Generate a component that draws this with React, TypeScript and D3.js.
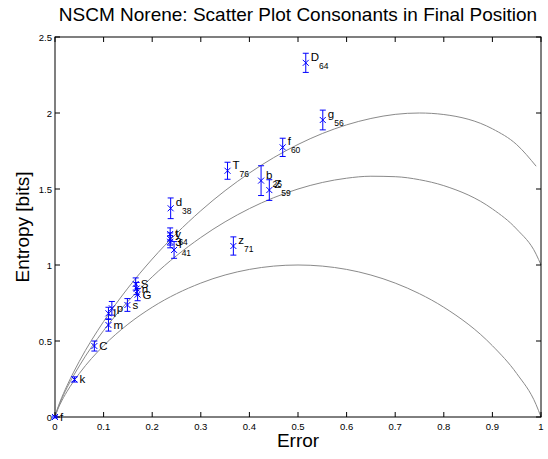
import * as d3 from "d3";
import { useEffect, useRef } from "react";

// consonants: label, subscript, error rate, entropy, error bar half-length
const labels = ["f", "k", "C", "m", "l", "p", "s", "S", "n", "G", "y", "t", "3", "l", "d", "T", "b", "Z", "z", "f", "g", "D"];
const subs = ["", "", "", "", "", "", "", "", "", "", "", "64", "", "41", "38", "76", "25", "59", "71", "60", "56", "64"];
const errorRate = [0, 0.04, 0.081, 0.11, 0.11, 0.117, 0.149, 0.166, 0.168, 0.17, 0.237, 0.237, 0.237, 0.245, 0.238, 0.355, 0.424, 0.441, 0.367, 0.4685, 0.551, 0.516];
const entropy = [0, 0.247, 0.467, 0.605, 0.682, 0.715, 0.737, 0.875, 0.845, 0.805, 1.204, 1.171, 1.153, 1.099, 1.373, 1.62, 1.555, 1.493, 1.125, 1.774, 1.954, 2.33];
const spread = [0.006, 0.017, 0.033, 0.04, 0.04, 0.045, 0.042, 0.04, 0.04, 0.04, 0.04, 0.04, 0.04, 0.055, 0.068, 0.056, 0.098, 0.068, 0.06, 0.06, 0.065, 0.063];

// bound curves
const curveX = [0, 0.005, 0.01, 0.025, 0.05, 0.1, 0.15, 0.2, 0.3, 0.4, 0.5, 0.6, 0.65, 0.7, 0.75, 0.8, 0.9, 0.95, 0.99, 1];
const bound2 = [0, 0.045, 0.081, 0.169, 0.286, 0.469, 0.61, 0.722, 0.881, 0.971, 1, 0.971, 0.934, 0.881, 0.811, 0.722, 0.469, 0.286, 0.081, 0];
const bound3 = [0, 0.05, 0.091, 0.194, 0.336, 0.569, 0.76, 0.922, 1.181, 1.371, 1.5, 1.571, 1.584, 1.581, 1.561, 1.522, 1.369, 1.236, 1.071, 1];
const bound4 = [0, 0.053, 0.097, 0.208, 0.366, 0.628, 0.848, 1.039, 1.357, 1.605, 1.793, 1.922, 1.964, 1.991, 2, 1.99, 1.896, 1.792, 1.65, NaN];

const xTicks = [0, 0.1, 0.2, 0.3, 0.4, 0.5, 0.6, 0.7, 0.8, 0.9, 1];
const yTicks = [0, 0.5, 1, 1.5, 2, 2.5];

export default function App() {
  const ref = useRef<SVGSVGElement | null>(null);

  useEffect(() => {
    if (!ref.current) return;
    const width = 548;
    const height = 459;
    const m = { top: 37, right: 7, bottom: 42, left: 55 };
    const font = "Liberation Sans, Arial, sans-serif";

    const svg = d3.select(ref.current);
    svg.selectAll("*").remove();

    const x = d3.scaleLinear().domain([0, 1]).range([m.left, width - m.right]);
    const y = d3.scaleLinear().domain([0, 2.5]).range([height - m.bottom, m.top]);

    svg.append("rect").attr("width", width).attr("height", height).attr("fill", "#fff");

    // curves
    const line = d3.line<number>()
      .defined((d) => !isNaN(d))
      .x((_, i) => x(curveX[i]))
      .y((d) => y(d))
      .curve(d3.curveMonotoneX);
    [bound2, bound3, bound4].forEach((b) => {
      svg.append("path").attr("d", line(b)).attr("fill", "none")
        .attr("stroke", "#8a8a8a").attr("stroke-width", 1);
    });

    // axes (box with inward ticks)
    const tl = 5;
    const ax = svg.append("g");
    ax.append("rect").attr("x", x(0)).attr("y", y(2.5))
      .attr("width", x(1) - x(0)).attr("height", y(0) - y(2.5))
      .attr("fill", "none").attr("stroke", "#000").attr("stroke-width", 1);
    xTicks.forEach((t) => {
      ax.append("line").attr("x1", x(t)).attr("x2", x(t)).attr("y1", y(0)).attr("y2", y(0) - tl).attr("stroke", "#000");
      ax.append("line").attr("x1", x(t)).attr("x2", x(t)).attr("y1", y(2.5)).attr("y2", y(2.5) + tl).attr("stroke", "#000");
      ax.append("text").attr("x", x(t)).attr("y", y(0) + 13).attr("text-anchor", "middle")
        .attr("font-family", font).attr("font-size", 9.5).text(String(t));
    });
    yTicks.forEach((t) => {
      ax.append("line").attr("x1", x(0)).attr("x2", x(0) + tl).attr("y1", y(t)).attr("y2", y(t)).attr("stroke", "#000");
      ax.append("line").attr("x1", x(1)).attr("x2", x(1) - tl).attr("y1", y(t)).attr("y2", y(t)).attr("stroke", "#000");
      ax.append("text").attr("x", x(0) - 3).attr("y", y(t) + 3.5).attr("text-anchor", "end")
        .attr("font-family", font).attr("font-size", 9.5).text(String(t));
    });

    // error bars and markers
    const blue = "#0000ff";
    const g = svg.append("g").attr("stroke", blue).attr("stroke-width", 1).attr("fill", "none");
    errorRate.forEach((e, i) => {
      const px = x(e);
      const py = y(entropy[i]);
      const top = y(entropy[i] + spread[i]);
      const bot = y(entropy[i] - spread[i]);
      g.append("line").attr("x1", px).attr("x2", px).attr("y1", top).attr("y2", bot);
      g.append("line").attr("x1", px - 3).attr("x2", px + 3).attr("y1", top).attr("y2", top);
      g.append("line").attr("x1", px - 3).attr("x2", px + 3).attr("y1", bot).attr("y2", bot);
      g.append("path").attr("d", `M${px - 3},${py - 3}L${px + 3},${py + 3}M${px - 3},${py + 3}L${px + 3},${py - 3}`);
    });

    // labels
    errorRate.forEach((e, i) => {
      const px = x(e);
      const py = y(entropy[i]);
      const t = svg.append("text").attr("x", px + 5).attr("y", subs[i] ? py - 2 : py + 4)
        .attr("font-family", font).attr("font-size", 11.5).attr("fill", "#000");
      t.append("tspan").text(labels[i]);
      if (subs[i]) t.append("tspan").attr("dy", 8).attr("font-size", 8.5).text(subs[i]);
    });

    // titles
    svg.append("text").attr("x", (x(0) + x(1)) / 2).attr("y", 21).attr("text-anchor", "middle")
      .attr("font-family", font).attr("font-size", 19).text("NSCM Norene: Scatter Plot Consonants in Final Position");
    svg.append("text").attr("x", (x(0) + x(1)) / 2).attr("y", 447).attr("text-anchor", "middle")
      .attr("font-family", font).attr("font-size", 19).text("Error");
    svg.append("text").attr("transform", `translate(29,${(y(0) + y(2.5)) / 2}) rotate(-90)`)
      .attr("text-anchor", "middle").attr("font-family", font).attr("font-size", 19).text("Entropy [bits]");
  }, []);

  return (
    <svg ref={ref} width={548} height={459} style={{ position: "absolute", left: 0, top: 0 }}></svg>
  );
}
